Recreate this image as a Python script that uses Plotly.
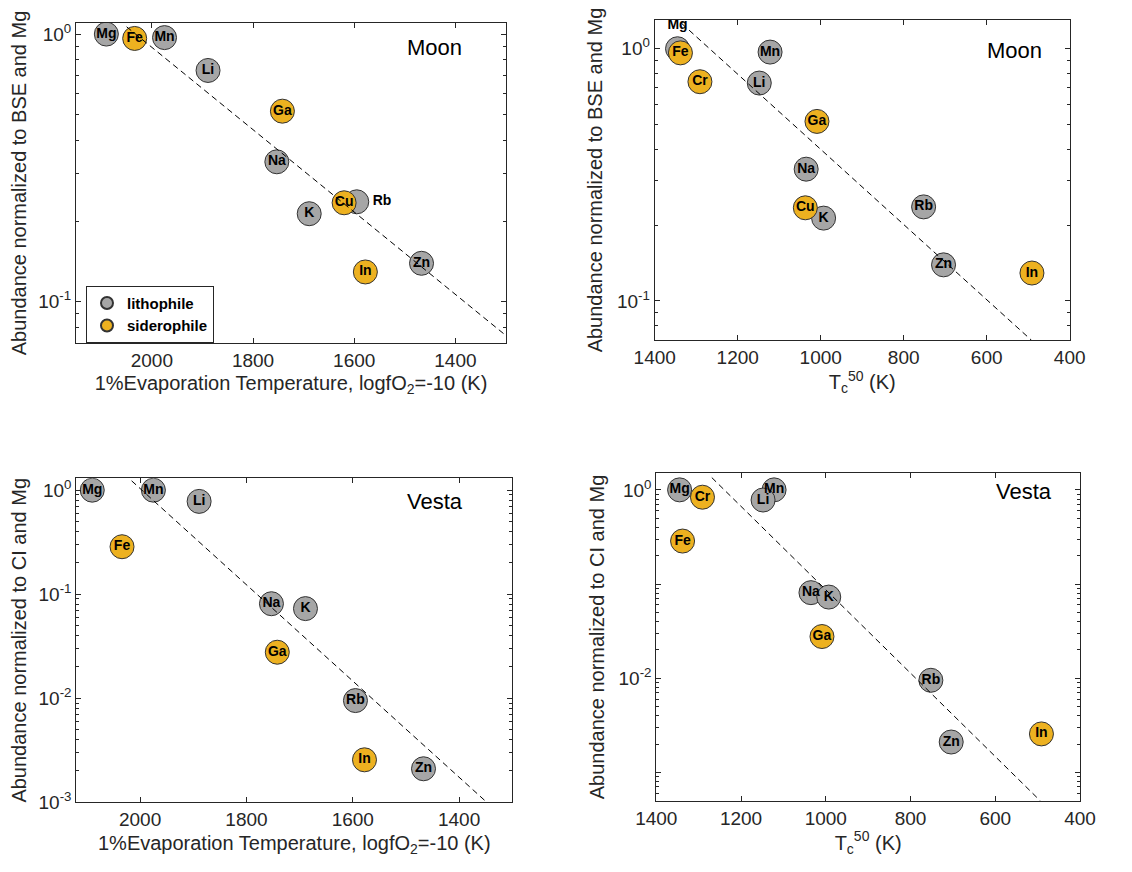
import plotly.graph_objects as go

# ---------------- data ----------------
elements = ["Mg", "Mn", "Li", "Na", "K", "Rb", "Zn", "Fe", "Cr", "Ga", "Cu", "In"]
element_class = ["lithophile"] * 7 + ["siderophile"] * 5
evap_temp_K = [2090, 1975, 1889, 1753, 1689, 1595, 1467, 2034, None, 1742, 1620, 1578]
tc50_K = [1345, 1122, 1148, 1035, 993, 752, 704, 1338, 1291, 1009, 1037, 491]
moon_abund = [1.0, 0.97, 0.731, 0.333, 0.213, 0.236, 0.139, 0.963, 0.74, 0.515, 0.234, 0.129]
vesta_abund = [1.0, 1.0, 0.78, 0.081, 0.0727, 0.0095, 0.0021, 0.286, 0.836, 0.0277, None, 0.00256]

# dashed trend lines (end points)
moon_evap_fit_T = [2050, 1300]
moon_evap_fit_A = [1.065, 0.0746]
moon_tc_fit_T = [1335, 492]
moon_tc_fit_A = [1.26, 0.0698]
vesta_evap_fit_T = [2016, 1348]
vesta_evap_fit_A = [1.23, 0.001]
vesta_tc_fit_T = [1269, 494]
vesta_tc_fit_A = [1.35, 0.0005]

# ---------------- styling ----------------
FONT = "Liberation Sans, Arial, Helvetica, sans-serif"
AXC = "#262626"
CLASS_COLOR = {"lithophile": "#A6A6A6", "siderophile": "#EDB120"}
MSIZE = 24

fig = go.Figure()

panels = [
    ("x", "y", evap_temp_K, moon_abund, moon_evap_fit_T, moon_evap_fit_A, {"Rb": "middle right"}),
    ("x2", "y2", tc50_K, moon_abund, moon_tc_fit_T, moon_tc_fit_A, {"Mg": "top center"}),
    ("x3", "y3", evap_temp_K, vesta_abund, vesta_evap_fit_T, vesta_evap_fit_A, {}),
    ("x4", "y4", tc50_K, vesta_abund, vesta_tc_fit_T, vesta_tc_fit_A, {}),
]

for pi, (xa, ya, temps, abund, fT, fA, overrides) in enumerate(panels):
    text_x, text_y, text_s, text_p = [], [], [], []
    for cls in ["lithophile", "siderophile"]:
        xs, ys = [], []
        for el, c, t, a in zip(elements, element_class, temps, abund):
            if c != cls or t is None or a is None:
                continue
            xs.append(t)
            ys.append(a)
            text_x.append(t)
            text_y.append(a)
            text_s.append(el)
            text_p.append(overrides.get(el, "middle center"))
        fig.add_trace(go.Scatter(
            x=xs, y=ys, mode="markers", xaxis=xa, yaxis=ya,
            name=cls, showlegend=(pi == 0), legendgroup=cls,
            marker=dict(size=MSIZE, color=CLASS_COLOR[cls],
                        line=dict(color="#333333", width=1)),
            hoverinfo="skip",
        ))
    fig.add_trace(go.Scatter(
        x=fT, y=fA, mode="lines", xaxis=xa, yaxis=ya, showlegend=False,
        line=dict(color="black", width=1, dash="6px,4px"), hoverinfo="skip",
    ))
    # labels: invisible markers of the same size so that offset labels clear the circles
    fig.add_trace(go.Scatter(
        x=text_x, y=text_y, text=text_s, mode="markers+text", textposition=text_p,
        xaxis=xa, yaxis=ya, showlegend=False, hoverinfo="skip",
        marker=dict(size=MSIZE, color="rgba(0,0,0,0)", line=dict(width=0)),
        textfont=dict(family=FONT, size=14, color="black", weight="bold"),
    ))

W, H = 1132, 872
OFF = 8  # the page body adds an 8 px margin around the plot


def dom(x0, x1, y0, y1):
    x0, x1, y0, y1 = x0 - OFF, x1 - OFF, y0 - OFF, y1 - OFF
    return [x0 / W, x1 / W], [1 - y1 / H, 1 - y0 / H]


minor_vals = [m * 10.0 ** e for e in range(-4, 1) for m in range(2, 10)]

common = dict(showline=True, linecolor=AXC, linewidth=1, mirror="allticks",
              ticks="inside", ticklen=5, tickcolor=AXC, tickwidth=1,
              tickfont=dict(family=FONT, size=19, color=AXC),
              showgrid=False, zeroline=False, automargin=False)


def ylog(rng, vals, texts, title):
    return dict(common, type="log", range=rng, tickmode="array",
                tickvals=vals, ticktext=texts,
                minor=dict(ticks="inside", ticklen=3, tickcolor=AXC,
                           tickmode="array", tickvals=minor_vals, showgrid=False),
                title=dict(text=title, font=dict(family=FONT, size=20, color=AXC), standoff=8))


def xlin(rng, vals, title):
    return dict(common, range=rng, tickmode="array", tickvals=vals,
                ticktext=[str(v) for v in vals],
                title=dict(text=title, font=dict(family=FONT, size=20, color=AXC), standoff=6))


d1x, d1y = dom(76, 506, 23, 343)
d2x, d2y = dom(654.7, 1069.7, 20, 340)
d3x, d3y = dom(76.3, 512.3, 478.3, 802.3)
d4x, d4y = dom(656.3, 1080, 473.3, 800.7)

evap_title = "1%Evaporation Temperature, logfO<sub>2</sub>=-10 (K)"
tc_title = "T<sub>c</sub><sup>50</sup> (K)"
p10 = lambda e: "10<sup>%d</sup>" % e

fig.update_layout(
    width=W, height=H, margin=dict(l=0, r=0, t=0, b=0, autoexpand=False),
    paper_bgcolor="white", plot_bgcolor="white",
    font=dict(family=FONT, color=AXC),
    xaxis=dict(xlin([2150, 1300], [2000, 1800, 1600, 1400], evap_title), domain=d1x, anchor="y"),
    yaxis=dict(ylog([-1.155, 0.0414], [0.1, 1], [p10(-1), p10(0)],
                    "Abundance normalized to BSE and Mg"), domain=d1y, anchor="x"),
    xaxis2=dict(xlin([1400, 400], [1400, 1200, 1000, 800, 600, 400], tc_title), domain=d2x, anchor="y2"),
    yaxis2=dict(ylog([-1.155, 0.114], [0.1, 1], [p10(-1), p10(0)],
                     "Abundance normalized to BSE and Mg"), domain=d2y, anchor="x2"),
    xaxis3=dict(xlin([2120, 1300], [2000, 1800, 1600, 1400], evap_title), domain=d3x, anchor="y3"),
    yaxis3=dict(ylog([-3, 0.114], [0.001, 0.01, 0.1, 1], [p10(-3), p10(-2), p10(-1), p10(0)],
                     "Abundance normalized to CI and Mg"), domain=d3y, anchor="x3"),
    xaxis4=dict(xlin([1400, 400], [1400, 1200, 1000, 800, 600, 400], tc_title), domain=d4x, anchor="y4"),
    yaxis4=dict(ylog([-3.301, 0.176], [0.001, 0.01, 0.1, 1], ["", p10(-2), "", p10(0)],
                     "Abundance normalized to CI and Mg"), domain=d4y, anchor="x4"),
    legend=dict(x=(86 - OFF) / W, y=1 - (285.7 - OFF) / H, xanchor="left", yanchor="top",
                bgcolor="white", bordercolor=AXC, borderwidth=1,
                font=dict(family=FONT, size=15, color="black", weight="bold"),
                itemsizing="constant", tracegroupgap=0),
    showlegend=True,
)

labels = [("Moon", "x", "y", 0.834, 0.922), ("Moon", "x2", "y2", 0.867, 0.906),
          ("Vesta", "x3", "y3", 0.823, 0.927), ("Vesta", "x4", "y4", 0.869, 0.943)]
for txt, xa, ya, fx, fy in labels:
    fig.add_annotation(text=txt, xref=xa + " domain", yref=ya + " domain", x=fx, y=fy,
                       showarrow=False, xanchor="center", yanchor="middle",
                       font=dict(family=FONT, size=22, color="black"))

fig.write_html("out.html")
